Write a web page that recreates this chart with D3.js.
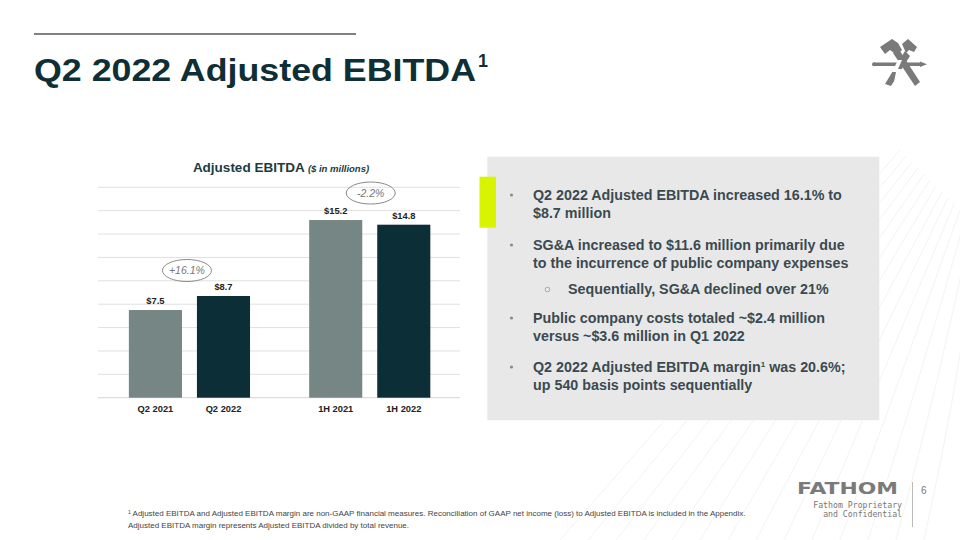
<!DOCTYPE html>
<html><head><meta charset="utf-8">
<script src="https://cdn.jsdelivr.net/npm/d3@7"></script>
<style>
html,body{margin:0;padding:0;background:#fff;}
svg{display:block;font-family:"Liberation Sans",Arial,sans-serif;}
</style></head>
<body>
<svg id="c" width="960" height="540"></svg>
<script>
const groups = ["Q2", "1H"];
const years = ["2021", "2022"];
const categories = ["Q2 2021", "Q2 2022", "1H 2021", "1H 2022"];
const values = [7.5, 8.7, 15.2, 14.8];
const valueLabels = ["$7.5", "$8.7", "$15.2", "$14.8"];
const changeLabels = ["+16.1%", "-2.2%"];
const yTicks = [0, 2, 4, 6, 8, 10, 12, 14, 16, 18];
const bullets = [
  {lvl:0, lines:["Q2 2022 Adjusted EBITDA increased 16.1% to", "$8.7 million"]},
  {lvl:0, lines:["SG&A increased to $11.6 million primarily due", "to the incurrence of public company expenses"]},
  {lvl:1, lines:["Sequentially, SG&A declined over 21%"]},
  {lvl:0, lines:["Public company costs totaled ~$2.4 million", "versus ~$3.6 million in Q1 2022"]},
  {lvl:0, lines:["Q2 2022 Adjusted EBITDA margin|1| was 20.6%;", "up 540 basis points sequentially"]}
];

const svg = d3.select("#c");
const dark = "#0f2f37";

// background faint texture lines (right side)
const tex = svg.append("g").attr("stroke","#f0f0f0").attr("stroke-width",0.8).attr("fill","none");
for (let i=0;i<14;i++){
  tex.append("path").attr("d",`M${560+i*28},540 Q${700+i*20},380 ${900+i*6},${150+i*6}`);
}

// Title
svg.append("line").attr("x1",34).attr("x2",356).attr("y1",34).attr("y2",34)
  .attr("stroke","#808080").attr("stroke-width",2);
svg.append("text").attr("x",34).attr("y",81).attr("fill",dark)
  .attr("font-size",31).attr("font-weight","bold")
  .attr("textLength",442).attr("lengthAdjust","spacingAndGlyphs")
  .text("Q2 2022 Adjusted EBITDA");
svg.append("text").attr("x",478).attr("y",67).attr("fill",dark)
  .attr("font-size",19).attr("font-weight","bold").attr("textLength",10).attr("lengthAdjust","spacingAndGlyphs").text("1");

// Chart
const y = d3.scaleLinear().domain([0,18]).range([397.7,187.3]);
const x0 = d3.scaleBand().domain(groups).range([99.3,459.9]).paddingInner(0.245).paddingOuter(0.1225);
const x1 = d3.scaleBand().domain(years).range([0,x0.bandwidth()]).paddingInner(0.22).paddingOuter(0.11);
const data = categories.map((c,i)=>({cat:c, g:c.split(" ")[0], yr:c.split(" ")[1], v:values[i], lab:valueLabels[i]}));

const grid = svg.append("g");
grid.selectAll("line").data(yTicks).join("line")
  .attr("x1",98).attr("x2",460).attr("y1",d=>y(d)).attr("y2",d=>y(d))
  .attr("stroke",d=>d===0?"#d4d4d4":"#e0e0e0").attr("stroke-width",1);

const bx = d=>x0(d.g)+x1(d.yr);
svg.append("g").selectAll("rect").data(data).join("rect")
  .attr("x",bx).attr("width",x1.bandwidth())
  .attr("y",d=>y(d.v)).attr("height",d=>y(0)-y(d.v))
  .attr("fill",d=>d.yr==="2021"?"#758684":"#0c2e36");

svg.append("g").selectAll("text").data(data).join("text")
  .attr("x",d=>bx(d)+x1.bandwidth()/2).attr("y",d=>y(d.v)-6)
  .attr("text-anchor","middle").attr("font-size",9.3).attr("font-weight","bold").attr("fill","#222")
  .text(d=>d.lab);

svg.append("g").selectAll("text").data(data).join("text")
  .attr("x",d=>bx(d)+x1.bandwidth()/2).attr("y",411.5)
  .attr("text-anchor","middle").attr("font-size",9.3).attr("font-weight","bold").attr("fill","#222")
  .text(d=>d.cat);

// chart title
const ct = svg.append("text").attr("x",281).attr("y",171.5).attr("text-anchor","middle").attr("fill","#1b3b42");
ct.append("tspan").attr("font-size",13.5).attr("font-weight","bold").text("Adjusted EBITDA ");
ct.append("tspan").attr("font-size",9.5).attr("font-style","italic").attr("font-weight","bold").text("($ in millions)");

// change ellipses
const ell = groups.map((g,i)=>{
  const d = data.filter(e=>e.g===g);
  const top = Math.min(...d.map(e=>y(e.v)));
  return {g, lab:changeLabels[i], cx: x0(g)+x0.bandwidth()/2 - (i===0?2.5:0) + (i===1?1:0), cy: top - (i===0?25.5:27)};
});
const eg = svg.append("g").selectAll("g").data(ell).join("g");
eg.append("ellipse").attr("cx",d=>d.cx).attr("cy",d=>d.cy).attr("rx",24.5).attr("ry",11)
  .attr("fill","none").attr("stroke","#8a8a8a").attr("stroke-width",1);
eg.append("text").attr("x",d=>d.cx).attr("y",d=>d.cy+3.8).attr("text-anchor","middle")
  .attr("font-size",10.5).attr("font-style","italic").attr("fill","#777").text(d=>d.lab);

// right panel
svg.append("rect").attr("x",487.3).attr("y",156.7).attr("width",392).attr("height",263.5).attr("fill","#e8e8e8");
svg.append("rect").attr("x",479.5).attr("y",176.7).attr("width",16.5).attr("height",51).attr("fill","#d8f400");

const baseY = [200, 250, 294, 323, 372];
const bg = svg.append("g").attr("font-size",14.3).attr("font-weight","bold").attr("fill","#3b4a50");
bullets.forEach((b,i)=>{
  const tx = b.lvl===0 ? 533 : 568;
  if (b.lvl===0) bg.append("circle").attr("cx",511.5).attr("cy",baseY[i]-5).attr("r",1.6).attr("fill","#8a8a8a");
  else bg.append("circle").attr("cx",547.5).attr("cy",baseY[i]-4.5).attr("r",2.3).attr("fill","none").attr("stroke","#999").attr("stroke-width",0.8);
  b.lines.forEach((ln,j)=>{
    const t = bg.append("text").attr("x",tx).attr("y",baseY[i]+j*18);
    const parts = ln.split("|");
    parts.forEach((p,k)=>{
      if (k%2===1) t.append("tspan").attr("font-size",8).attr("dy",-5).text(p);
      else t.append("tspan").attr("dy",k>0?5:0).text(p);
    });
  });
});

// logo top right (simplified tools icon)
const lg = svg.append("g").attr("fill","#7a7a7a").attr("stroke","none");
lg.append("path").attr("d","M880,47 L892,39 L898,43 L902,50 L897,55 L890,50 L885,54 Z");
lg.append("path").attr("d","M893,53 L898,48 L920,82 L915,86 Z");
lg.append("path").attr("d","M902,44 L908,39 L917,47 L914,52 L909,50 L906,53 Z");
lg.append("path").attr("d","M905,51 L910,56 L891,86 L885,84 Z");
lg.append("rect").attr("x",874).attr("y",62.5).attr("width",46).attr("height",3.5);
lg.append("path").attr("d","M920,61.5 L927,64.25 L920,67 Z");
lg.append("circle").attr("cx",874).attr("cy",64.25).attr("r",2);
lg.append("path").attr("d","M898,60 L902,60 L898,69 L902,69 L894,82 L896,72 L892,72 Z").attr("fill","#fff");

// footer
svg.append("text").attr("x",797).attr("y",494).attr("font-size",16.5).attr("font-weight","bold")
  .attr("font-family","'DejaVu Sans',sans-serif")
  .attr("fill","#7a7a7a").attr("textLength",101).attr("lengthAdjust","spacingAndGlyphs").text("FATHOM");
const fp = svg.append("g").attr("font-family","'DejaVu Sans Mono',monospace").attr("font-size",8.2).attr("fill","#777").attr("text-anchor","end");
fp.append("text").attr("x",902).attr("y",508).text("Fathom Proprietary");
fp.append("text").attr("x",902).attr("y",517).text("and Confidential");
svg.append("line").attr("x1",912.5).attr("x2",912.5).attr("y1",482).attr("y2",527).attr("stroke","#aaa").attr("stroke-width",0.8);
svg.append("text").attr("x",921).attr("y",494).attr("font-size",10).attr("fill","#777").text("6");

const fn = svg.append("g").attr("font-size",8).attr("fill","#444");
const f1 = fn.append("text").attr("x",128).attr("y",516);
f1.append("tspan").attr("font-size",5).attr("dy",-2.5).text("1");
f1.append("tspan").attr("dy",2.5).text(" Adjusted EBITDA and Adjusted EBITDA margin are non-GAAP financial measures. Reconciliation of GAAP net income (loss) to Adjusted EBITDA is included in the Appendix.");
fn.append("text").attr("x",128).attr("y",528).text("Adjusted EBITDA margin represents Adjusted EBITDA divided by total revenue.");
</script>
</body></html>
